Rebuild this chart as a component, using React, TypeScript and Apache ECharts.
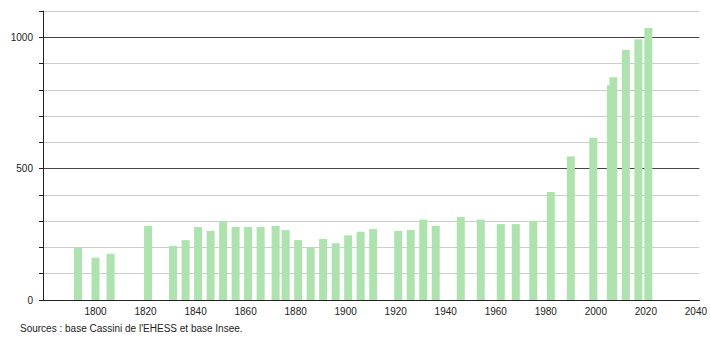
import React, { useEffect, useRef } from "react";
import * as echarts from "echarts";

const years = [1793, 1800, 1806, 1821, 1831, 1836, 1841, 1846, 1851, 1856, 1861, 1866, 1872, 1876, 1881, 1886, 1891, 1896, 1901, 1906, 1911, 1921, 1926, 1931, 1936, 1946, 1954, 1962, 1968, 1975, 1982, 1990, 1999, 2006, 2007, 2012, 2017, 2021];
const population = [199, 161, 176, 282, 206, 228, 278, 263, 300, 278, 278, 278, 282, 266, 228, 200, 232, 216, 246, 260, 270, 263, 266, 306, 282, 316, 306, 289, 289, 301, 411, 546, 618, 817, 848, 952, 992, 1035];
const xTickLabels = [1800, 1820, 1840, 1860, 1880, 1900, 1920, 1940, 1960, 1980, 2000, 2020, 2040];
const yTickLabels = [0, 500, 1000];
const sourceText = "Sources : base Cassini de l'EHESS et base Insee.";

export default function App() {
  const ref = useRef<HTMLDivElement>(null);
  useEffect(() => {
    if (!ref.current) return;
    document.body.style.margin = "0";
    const chart = echarts.init(ref.current, undefined, { renderer: "svg" });
    chart.setOption({
      animation: false,
      textStyle: { fontFamily: "Liberation Sans, Arial, sans-serif" },
      grid: { left: 43, right: 10, top: 11, bottom: 40, containLabel: false },
      xAxis: {
        type: "value",
        min: 1779,
        max: 2041.4,
        splitLine: { show: false },
        axisLine: { show: true, onZero: false, lineStyle: { color: "#222", width: 1 } },
        axisTick: { show: false },
        axisLabel: {
          customValues: xTickLabels,
          color: "#222",
          fontSize: 10,
          margin: 6,
          showMinLabel: true,
          showMaxLabel: true,
          hideOverlap: false,
          formatter: (v: number) => String(v),
        },
      },
      yAxis: {
        type: "value",
        min: 0,
        max: 1100,
        interval: 100,
        axisLine: { show: true, lineStyle: { color: "#222", width: 1 } },
        axisTick: { show: true, length: 4, lineStyle: { color: "#222" } },
        axisLabel: {
          color: "#222",
          fontSize: 10,
          margin: 10,
          formatter: (v: number) => (yTickLabels.includes(v) ? String(v) : ""),
        },
        splitLine: {
          show: true,
          lineStyle: { color: ["#444", "#cccccc", "#cccccc", "#cccccc", "#cccccc"], width: 1 },
        },
      },
      series: [
        {
          type: "bar",
          data: years.map((y, i) => [y, population[i]]),
          barWidth: 8,
          itemStyle: { color: "#aee2ae" },
          barGap: "-100%",
        },
      ],
      graphic: [
        {
          type: "text",
          left: 20,
          top: 323,
          style: { text: sourceText, fontSize: 10, fill: "#222", fontFamily: "Liberation Sans, Arial, sans-serif" },
        },
      ],
    });
    return () => chart.dispose();
  }, []);
  return <div ref={ref} style={{ width: 710, height: 340 }} />;
}
